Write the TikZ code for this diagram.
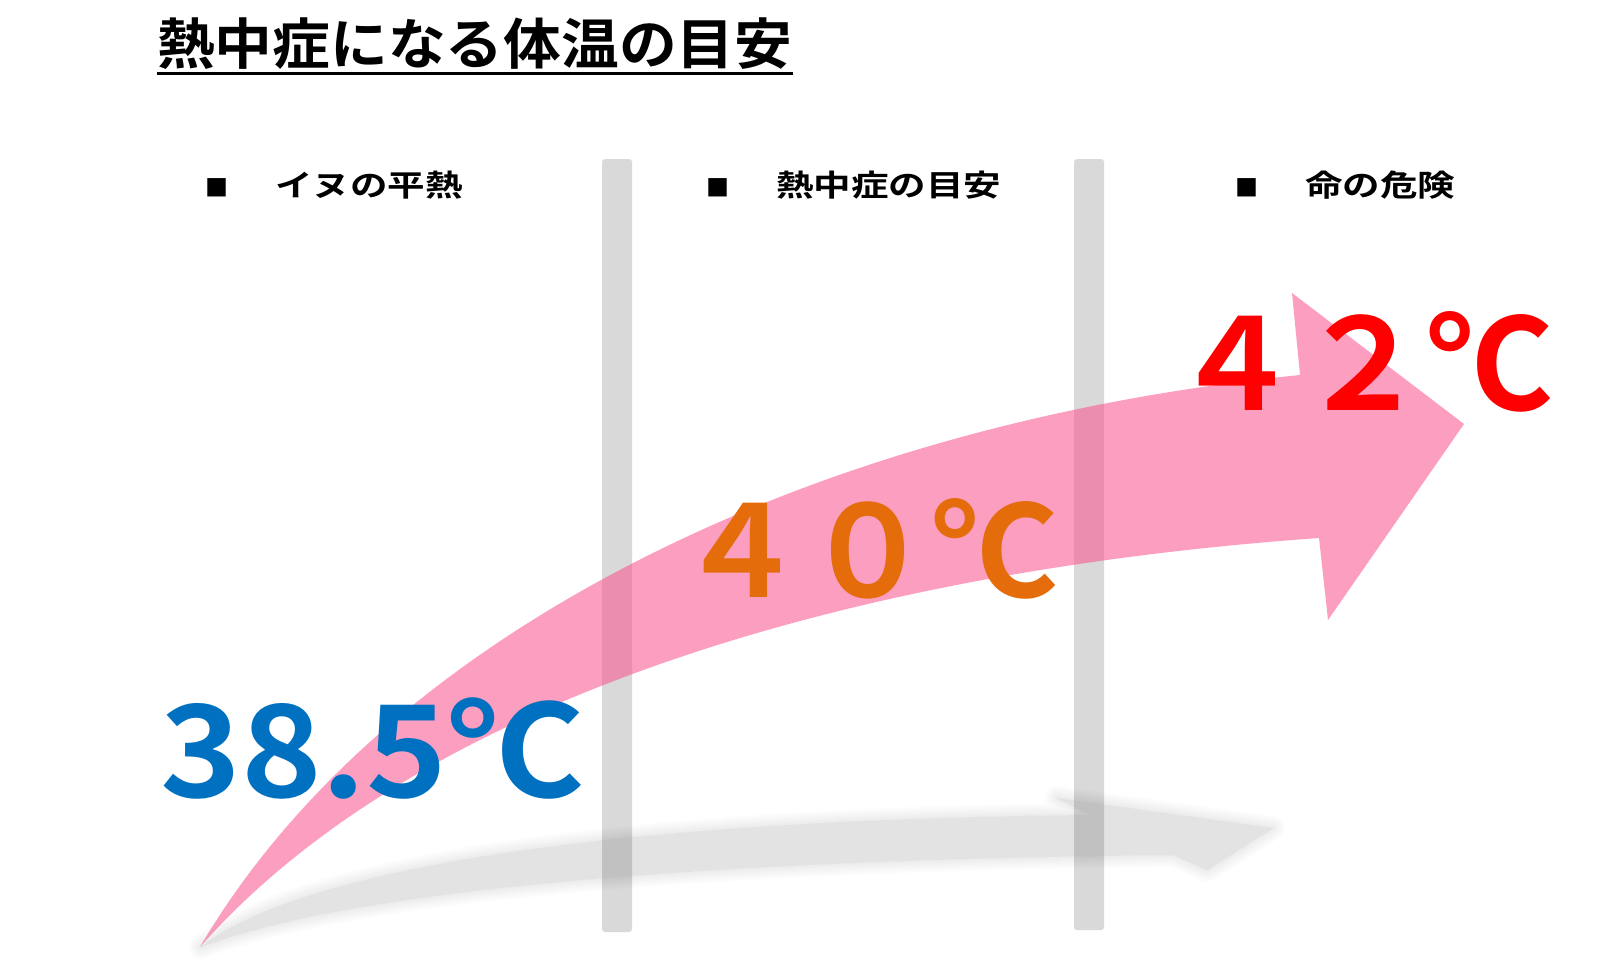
\documentclass[tikz,border=0pt]{standalone}
\usepackage{fontspec}
\setmainfont{Noto Sans CJK JP}[UprightFont=* Bold]
\newfontfamily\titlefont{Noto Sans CJK JP}[UprightFont=* Bold, FakeStretch=1.05]
\newfontfamily\headfont{Noto Sans CJK JP}[UprightFont=* Bold, FakeStretch=1.25]
\newfontfamily\widenum{Noto Sans CJK JP}[UprightFont=* Bold, FakeStretch=1.07]
\usetikzlibrary{arrows}

\definecolor{tempblue}{RGB}{0,112,192}
\definecolor{temporange}{RGB}{228,108,10}
\definecolor{tempred}{RGB}{255,0,0}
\definecolor{bargray}{RGB}{217,217,217}
\definecolor{arrowpink}{RGB}{250,80,140}

\newcommand\heatarrow{(200,947) .. controls (380,640) and (800,425) .. (1300,375) -- (1292,293) -- (1464,424) -- (1328,620) -- (1319,538) .. controls (800,575) and (400,720) .. (200,947) -- cycle}
\newcommand\heatshadow{(201,947) .. controls (300,870) and (600,820) .. (1090,815) -- (1057,798) -- (1273,828) -- (1207,870) -- (1173,855) .. controls (700,860) and (350,890) .. (201,947) -- cycle}
\newcommand\bullsq{{\normalfont\fontsize{23}{24}\selectfont ■}\hspace{47pt}}

\begin{document}
\begin{tikzpicture}[x=1pt, y=-1pt,
  temp/.style={anchor=base west, inner sep=0pt, font=\fontsize{127}{130}\selectfont},
  head/.style={anchor=base west, inner sep=0pt, font=\headfont\fontsize{30}{32}\selectfont},
  bar/.style={fill=bargray, rounded corners=3pt}]
\useasboundingbox[fill=white] (0,0) rectangle (1624,961);

% title
\node[anchor=base west, inner sep=0pt, font=\titlefont\fontsize{55}{60}\selectfont] (title) at (157,64) {熱中症になる体温の目安};
\draw[line width=3pt] ([yshift=-9.5pt]title.base west) -- ([yshift=-9.5pt]title.base east);

% columns
\fill[bar] (602,159) rectangle (632,932);
\fill[bar] (1074,159) rectangle (1104,930);
\node[head] (normalhead) at (205,196) {\bullsq イヌの平熱};
\node[head] (heathead) at (706,196) {\bullsq 熱中症の目安};
\node[head] (dangerhead) at (1235,196) {\bullsq 命の危険};

% blurred shadow of the arrow
\begin{scope}[even odd rule]
\clip (0,0) rectangle (1624,961) \heatshadow;
\foreach \w in {4,8,...,24}
  \draw[black, draw opacity=0.012, line width=\w pt, line join=round] \heatshadow;
\end{scope}
\fill[black, fill opacity=0.11] \heatshadow;

% rising arrow
\fill[arrowpink, fill opacity=0.55] \heatarrow;

\node[temp, text=tempblue, font=\widenum\fontsize{128}{130}\selectfont] (normal) at (160,797) {38.5℃};
\node[temp, text=temporange] (heat) at (677,597) {４０℃};
\node[temp, text=tempred] (danger) at (1172,410) {４２℃};
\end{tikzpicture}
\end{document}
